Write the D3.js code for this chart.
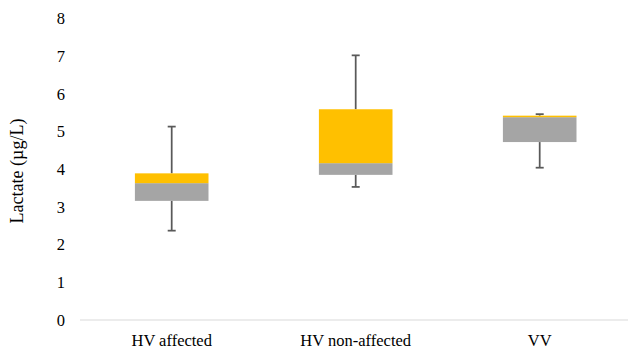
<!DOCTYPE html>
<html><head><meta charset="utf-8">
<script src="https://cdn.jsdelivr.net/npm/d3@7"></script>
<style>body{margin:0;background:#fff}svg{display:block}text{font-family:"Liberation Serif","Times New Roman",serif;fill:#000}</style>
</head><body>
<svg id="c" width="628" height="352"></svg>
<script>
const categories = ["HV affected", "HV non-affected", "VV"];
const whiskerMin = [2.37, 3.53, 4.04];
const q1 = [3.16, 3.85, 4.72];
const median = [3.63, 4.16, 5.38];
const q3 = [3.89, 5.59, 5.42];
const whiskerMax = [5.13, 7.02, 5.46];
const yTicks = [0, 1, 2, 3, 4, 5, 6, 7, 8];

const svg = d3.select("#c");
const x = d3.scaleBand().domain(categories).range([79.7, 631.7]).paddingInner(0).paddingOuter(0);
const y = d3.scaleLinear().domain([0, 8]).range([320, 18.4]);
const boxW = x.bandwidth() * 0.4;

const data = categories.map((c, i) => ({c, lo: whiskerMin[i], q1: q1[i], med: median[i], q3: q3[i], hi: whiskerMax[i]}));

// axis line
svg.append("line").attr("x1", 80).attr("x2", 628).attr("y1", y(0)).attr("y2", y(0))
  .attr("stroke", "#d9d9d9").attr("stroke-width", 1);

// y tick labels
const yAxis = d3.axisLeft(y).tickValues(yTicks).tickSize(0).tickPadding(0).tickFormat(d3.format("d"));
const ga = svg.append("g").attr("transform", "translate(65,0)").call(yAxis);
ga.select(".domain").remove();
ga.selectAll("text").attr("font-size", 16.5).attr("font-family", "Liberation Serif").attr("fill", "#000");

// x labels
const xAxis = d3.axisBottom(x).tickSize(0).tickPadding(0);
const gx = svg.append("g").attr("transform", "translate(0,346)").call(xAxis);
gx.select(".domain").remove();
gx.selectAll("text").attr("font-size", 16.5).attr("font-family", "Liberation Serif").attr("fill", "#000").attr("dy", 0);

// whiskers
const cx = d => x(d.c) + x.bandwidth() / 2;
const w = svg.append("g").attr("stroke", "#595959").attr("stroke-width", 1.75);
data.forEach(d => {
  w.append("line").attr("x1", cx(d)).attr("x2", cx(d)).attr("y1", y(d.hi)).attr("y2", y(d.q3));
  w.append("line").attr("x1", cx(d)).attr("x2", cx(d)).attr("y1", y(d.q1)).attr("y2", y(d.lo));
  w.append("line").attr("x1", cx(d) - 4).attr("x2", cx(d) + 4).attr("y1", y(d.hi)).attr("y2", y(d.hi));
  w.append("line").attr("x1", cx(d) - 4).attr("x2", cx(d) + 4).attr("y1", y(d.lo)).attr("y2", y(d.lo));
});

// boxes
const b = svg.append("g");
b.selectAll("rect.lower").data(data).join("rect").attr("class", "lower")
  .attr("x", d => cx(d) - boxW / 2).attr("width", boxW)
  .attr("y", d => y(d.med)).attr("height", d => y(d.q1) - y(d.med))
  .attr("fill", "#a5a5a5");
b.selectAll("rect.upper").data(data).join("rect").attr("class", "upper")
  .attr("x", d => cx(d) - boxW / 2).attr("width", boxW)
  .attr("y", d => y(d.q3)).attr("height", d => y(d.med) - y(d.q3))
  .attr("fill", "#ffc000");

// y title
svg.append("text").attr("transform", "translate(23,171) rotate(-90)")
  .attr("text-anchor", "middle").attr("font-size", 18).text("Lactate (µg/L)");
</script>
</body></html>
